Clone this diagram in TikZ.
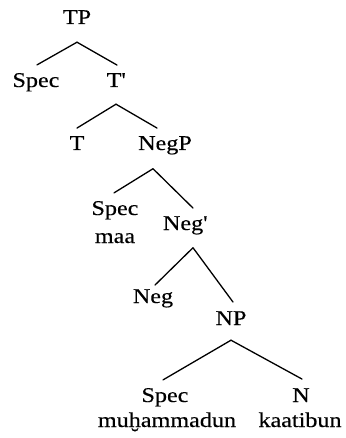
\documentclass[tikz,border=0pt]{standalone}
\usepackage{fontspec}
\setmainfont{Liberation Serif}[FakeStretch=1.15, FakeBold=0.3]
\usetikzlibrary{positioning}

\begin{document}
\begin{tikzpicture}[x=1pt, y=-1pt,
    every node/.style={font=\fontsize{21}{25}\selectfont, inner sep=0pt, anchor=base},
    branch/.style={line width=1.3pt, line cap=round}
  ]
    \useasboundingbox (0,0) rectangle (345,438);
    % Categories
    \node (tp) at (77,24) {TP};
    \node (spec1) at (36,87) {Spec};
    \node (tbar) at (116,87) {T\textquotesingle};
    \node (t) at (77,150) {T};
    \node (negp) at (165,150) {NegP};
    \node (spec2) at (115,215) {Spec};
    \node (maa) at (115,243) {maa};
    \node (negbar) at (185,230) {Neg\textquotesingle};
    \node (neg) at (153,303) {Neg};
    \node (np) at (231,325) {NP};
    \node (spec3) at (165,402) {Spec};
    \node (n) at (301,402) {N};
    \node (muh) at (167,427) {muḫammadun};
    \node (kaat) at (300,427) {kaatibun};
    % Branching points
    \coordinate (tp-b) at ([yshift=-18pt]tp.south);
    \coordinate (tbar-b) at ([yshift=-17pt]tbar.south);
    \coordinate (negp-b) at ([xshift=-12pt,yshift=-14pt]negp.south);
    \coordinate (negbar-b) at ([xshift=8pt,yshift=-13pt]negbar.south);
    \coordinate (np-b) at ([yshift=-15pt]np.south);
    % Branches
    \draw[branch] (tp-b) -- ([xshift=1pt,yshift=8pt]spec1.north);
    \draw[branch] (tp-b) -- ([xshift=1pt,yshift=8pt]tbar.north);
    \draw[branch] (tbar-b) -- ([yshift=8pt]t.north);
    \draw[branch] (tbar-b) -- ([xshift=-8pt,yshift=8pt]negp.north);
    \draw[branch] (negp-b) -- ([xshift=-1pt,yshift=8pt]spec2.north);
    \draw[branch] (negp-b) -- ([xshift=8pt,yshift=8pt]negbar.north);
    \draw[branch] (negbar-b) -- ([xshift=2pt,yshift=4pt]neg.north);
    \draw[branch] (negbar-b) -- ([xshift=2pt,yshift=9pt]np.north);
    \draw[branch] (np-b) -- ([xshift=-2pt,yshift=8pt]spec3.north);
    \draw[branch] (np-b) -- ([xshift=1pt,yshift=9pt]n.north);
  \end{tikzpicture}
\end{document}
